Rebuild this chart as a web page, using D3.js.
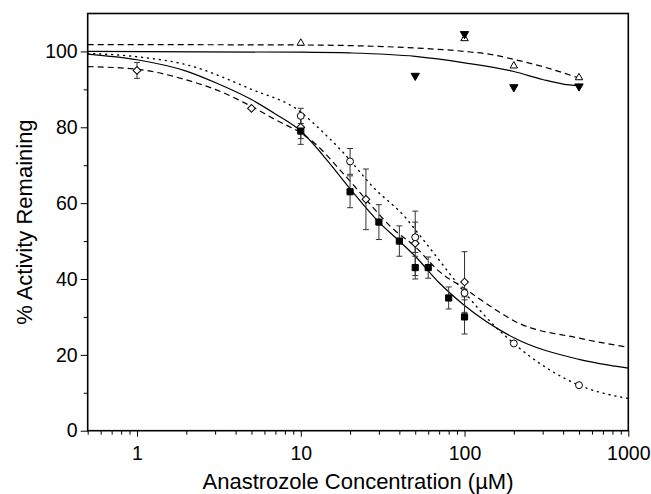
<!DOCTYPE html>
<html>
<head>
<meta charset="utf-8">
<script src="https://cdn.jsdelivr.net/npm/d3@7"></script>
<style>
    body { margin: 0; background: #fff; }
    #chart-area { width: 651px; height: 494px; }
    text { font-family: "Liberation Sans", Arial, sans-serif; fill: #000; }
</style>
</head>
<body>
<div id="chart-area"></div>
<script>

// measured points: concentration (uM), % activity remaining, error (+/-)
const squareConc = [10, 20, 30, 40, 50, 60, 80, 100];
const squareAct  = [79, 63, 55, 50, 43, 43, 35, 30];
const squareErr  = [3.5, 4.2, 4.6, 4, 3, 2.8, 2.9, 4.5];

const circleConc = [10, 20, 50, 100, 200, 500];
const circleAct  = [83, 71, 51, 36.3, 23, 12];
const circleErr  = [2, 3.4, 4, 1, 0, 0];

const diamondConc = [1, 5, 10, 25, 50, 100];
const diamondAct  = [95, 85, 80, 61, 49.4, 39.2];
const diamondErr  = [2.1, 0, 3, 8, 8.5, 8];

const triUpConc = [10, 100, 200, 500];
const triUpAct  = [102.2, 103.4, 96.2, 93.1];

const triDownConc = [50, 100, 200, 500];
const triDownAct  = [93.6, 104.6, 90.6, 90.8];

// fitted curves, sampled off the figure
const fitSolidConc = [0.5, 1, 2, 3, 5, 7, 10, 15, 20, 30, 40, 50, 70, 100, 200, 500, 1000];
const fitSolidAct  = [99.3, 97.8, 94.8, 91.8, 87.3, 83.5, 79, 70.5, 63.8, 55, 50, 46, 39, 33, 24.5, 18.8, 16.5];

const fitDottedConc = [0.5, 1, 2, 5, 10, 12, 18, 28, 44, 50, 58, 100, 135, 200, 500, 1000];
const fitDottedAct  = [99.5, 98.6, 96.5, 90, 84, 81, 73.5, 64, 56, 53, 49.5, 36.5, 30, 23, 12, 8.5];

const fitDashedConc = [0.5, 1, 2, 3, 5, 7, 10, 12, 18, 25, 36, 50, 70, 100, 160, 200, 500, 1000];
const fitDashedAct  = [96, 95.3, 92.5, 90, 85.5, 82, 78.5, 76, 68, 61, 53.5, 48.5, 42, 37.5, 31.5, 29, 24.4, 22];

const fitTopDashedConc = [0.5, 10, 50, 100, 150, 200, 300, 500];
const fitTopDashedAct  = [101.8, 101.7, 100.9, 100, 99.1, 97.9, 96, 93];

const fitTopSolidConc = [0.5, 10, 20, 50, 100, 200, 300, 400, 500];
const fitTopSolidAct  = [100, 99.8, 99.6, 98.7, 97, 94.7, 92.6, 91.4, 91];

// axes
const xMajorTicks = [1, 10, 100, 1000];
const xMinorTicks = [0.5, 0.6, 0.7, 0.8, 0.9, 2, 3, 4, 5, 6, 7, 8, 9, 20, 30, 40, 50, 60, 70, 80, 90, 200, 300, 400, 500, 600, 700, 800, 900];
const yMajorTicks = [0, 20, 40, 60, 80, 100];
const yMinorTicks = [10, 30, 50, 70, 90];

const xTitle = "Anastrozole Concentration (\u00B5M)";
const yTitle = "% Activity Remaining";

function zipPoints(conc, act, err) {
    return conc.map((c, i) => ({conc: c, act: act[i], err: err ? err[i] : 0}));
}

class DoseResponseVis {

    constructor(parentElement) {
        this.parentElement = parentElement;
        this.initVis();
    }

    initVis() {
        let vis = this;

        vis.margin = {top: 13.5, right: 22.7, bottom: 63.3, left: 87.7};
        vis.width = 651 - vis.margin.left - vis.margin.right;
        vis.height = 494 - vis.margin.top - vis.margin.bottom;

        vis.svg = d3.select("#" + vis.parentElement).append("svg")
            .attr("width", 651)
            .attr("height", 494)
            .append("g")
            .attr("transform", `translate(${vis.margin.left}, ${vis.margin.top})`);

        vis.x = d3.scaleLog().domain([0.5, 1000]).range([0, vis.width]);
        vis.y = d3.scaleLinear().domain([0, 110]).range([vis.height, 0]);

        // minor ticks first, major on top
        vis.svg.append("g")
            .attr("class", "x-minor")
            .attr("transform", `translate(0, ${vis.height})`)
            .call(d3.axisBottom(vis.x).tickValues(xMinorTicks).tickFormat("").tickSize(4).tickSizeOuter(0));

        vis.svg.append("g")
            .attr("class", "x-axis")
            .attr("transform", `translate(0, ${vis.height})`)
            .call(d3.axisBottom(vis.x).tickValues(xMajorTicks).tickFormat(d3.format("d")).tickSize(6).tickPadding(9).tickSizeOuter(0));

        vis.svg.append("g")
            .attr("class", "y-minor")
            .call(d3.axisLeft(vis.y).tickValues(yMinorTicks).tickFormat("").tickSize(4).tickSizeOuter(0));

        vis.svg.append("g")
            .attr("class", "y-axis")
            .call(d3.axisLeft(vis.y).tickValues(yMajorTicks).tickSize(7).tickPadding(3).tickSizeOuter(0));

        vis.svg.selectAll(".x-axis text, .y-axis text")
            .style("font-size", "19.5px")
            .style("font-family", "'Liberation Sans', Arial, sans-serif");
        vis.svg.selectAll(".domain").remove();
        vis.svg.selectAll(".tick line").attr("stroke", "#000").attr("stroke-width", 1);

        // frame
        vis.svg.append("rect")
            .attr("width", vis.width)
            .attr("height", vis.height)
            .attr("fill", "none")
            .attr("stroke", "#000")
            .attr("stroke-width", 1.6);

        // axis titles
        vis.svg.append("text")
            .attr("x", vis.width / 2)
            .attr("y", vis.height + 58)
            .attr("text-anchor", "middle")
            .style("font-size", "22px")
            .text(xTitle);

        vis.svg.append("text")
            .attr("transform", `translate(${-56}, ${vis.height / 2}) rotate(-90)`)
            .attr("text-anchor", "middle")
            .style("font-size", "22px")
            .text(yTitle);

        vis.wrangleData();
    }

    wrangleData() {
        let vis = this;

        vis.curves = [
            {pts: zipPoints(fitTopDashedConc, fitTopDashedAct), dash: "6,4"},
            {pts: zipPoints(fitTopSolidConc, fitTopSolidAct), dash: null},
            {pts: zipPoints(fitDashedConc, fitDashedAct), dash: "6,4"},
            {pts: zipPoints(fitDottedConc, fitDottedAct), dash: "1,5"},
            {pts: zipPoints(fitSolidConc, fitSolidAct), dash: null}
        ];

        vis.series = [
            {pts: zipPoints(diamondConc, diamondAct, diamondErr), shape: "diamond", fill: "#fff"},
            {pts: zipPoints(circleConc, circleAct, circleErr), shape: "circle", fill: "#fff"},
            {pts: zipPoints(squareConc, squareAct, squareErr), shape: "square", fill: "#000"},
            {pts: zipPoints(triUpConc, triUpAct), shape: "up", fill: "#fff"},
            {pts: zipPoints(triDownConc, triDownAct), shape: "down", fill: "#000"}
        ];

        vis.updateVis();
    }

    updateVis() {
        let vis = this;

        let line = d3.line()
            .x(d => vis.x(d.conc))
            .y(d => vis.y(d.act))
            .curve(d3.curveMonotoneX);

        vis.svg.selectAll(".fit")
            .data(vis.curves)
            .enter()
            .append("path")
            .attr("class", "fit")
            .attr("d", d => line(d.pts))
            .attr("fill", "none")
            .attr("stroke", "#000")
            .attr("stroke-width", d => d.dash === "1,5" ? 1.4 : 1.2)
            .attr("stroke-linecap", d => d.dash === "1,5" ? "round" : "butt")
            .attr("stroke-dasharray", d => d.dash);

        // error bars
        let errData = vis.series.flatMap(s => s.pts.filter(p => p.err > 0));
        let errG = vis.svg.selectAll(".err")
            .data(errData)
            .enter()
            .append("g")
            .attr("class", "err")
            .attr("stroke", "#333")
            .attr("stroke-width", 1);

        errG.append("line")
            .attr("x1", d => vis.x(d.conc)).attr("x2", d => vis.x(d.conc))
            .attr("y1", d => vis.y(d.act - d.err)).attr("y2", d => vis.y(d.act + d.err));
        errG.append("line")
            .attr("x1", d => vis.x(d.conc) - 3).attr("x2", d => vis.x(d.conc) + 3)
            .attr("y1", d => vis.y(d.act + d.err)).attr("y2", d => vis.y(d.act + d.err));
        errG.append("line")
            .attr("x1", d => vis.x(d.conc) - 3).attr("x2", d => vis.x(d.conc) + 3)
            .attr("y1", d => vis.y(d.act - d.err)).attr("y2", d => vis.y(d.act - d.err));

        let symbols = {
            square: {type: d3.symbolSquare, size: 38, rot: 0},
            circle: {type: d3.symbolCircle, size: 38, rot: 0},
            diamond: {type: d3.symbolSquare, size: 30, rot: 45},
            up: {type: d3.symbolTriangle, size: 24, rot: 0},
            down: {type: d3.symbolTriangle, size: 30, rot: 180}
        };

        vis.series.forEach(s => {
            let sym = symbols[s.shape];
            vis.svg.selectAll(`.pt-${s.shape}`)
                .data(s.pts)
                .enter()
                .append("path")
                .attr("class", `pt-${s.shape}`)
                .attr("d", d3.symbol().type(sym.type).size(sym.size))
                .attr("transform", d => `translate(${vis.x(d.conc)}, ${vis.y(d.act)}) rotate(${sym.rot})`)
                .attr("fill", s.fill)
                .attr("stroke", "#000")
                .attr("stroke-width", 1);
        });
    }
}

new DoseResponseVis("chart-area");

</script>
</body>
</html>
